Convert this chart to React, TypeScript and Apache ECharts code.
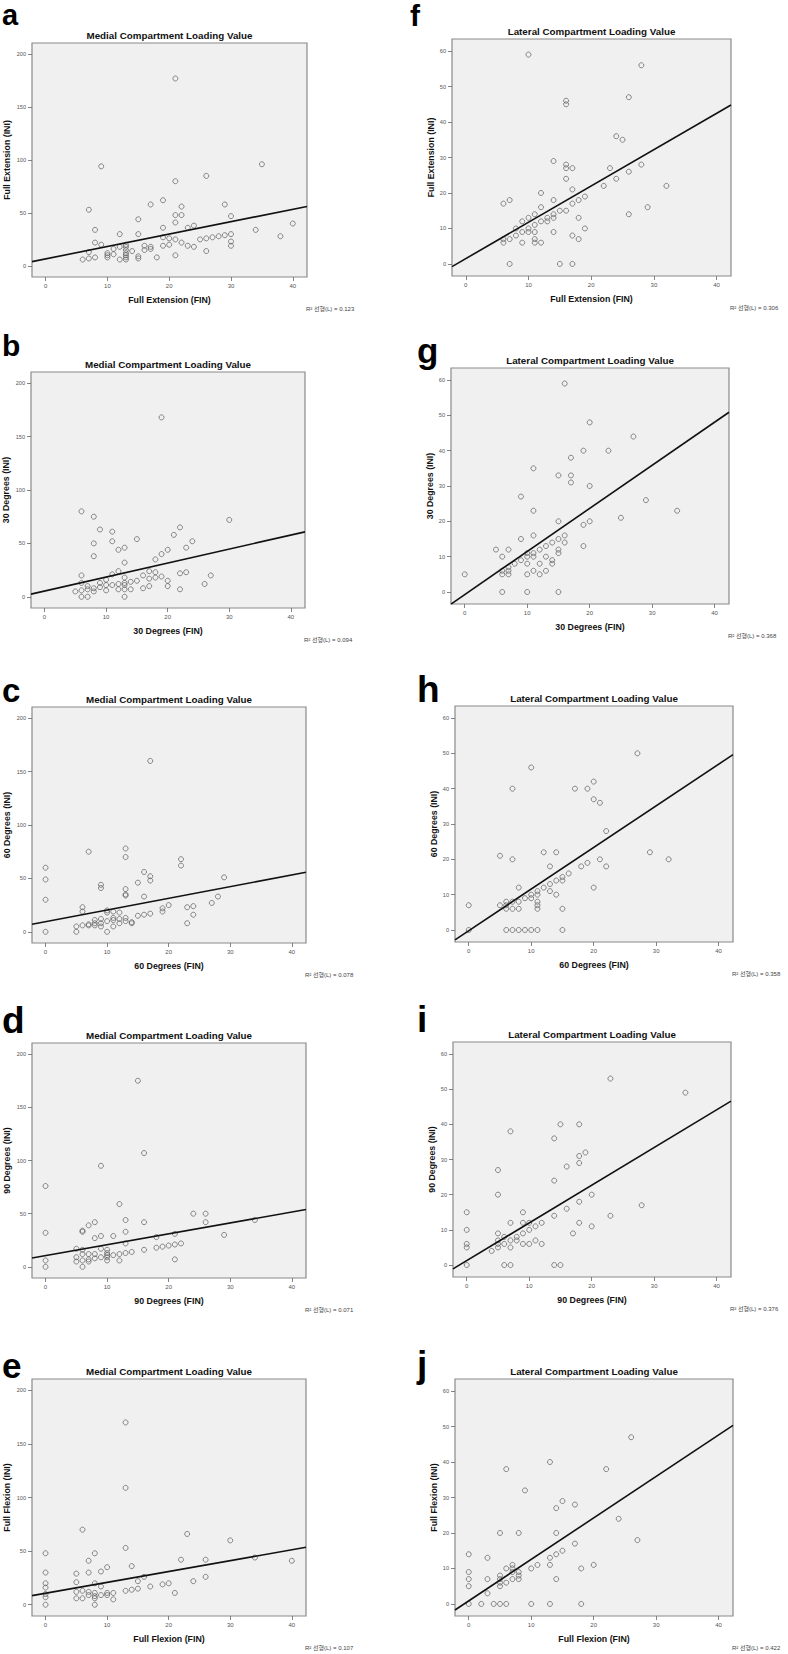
import React, { useEffect, useRef } from "react";
import * as echarts from "echarts";

// ---------- data ----------
const letters = ["a", "b", "c", "d", "e", "f", "g", "h", "i", "j"];
const medialTitle = "Medial Compartment Loading Value";
const lateralTitle = "Lateral Compartment Loading Value";
const conditions = ["Full Extension", "30 Degrees", "60 Degrees", "90 Degrees", "Full Flexion"];
const r2Values = ["0.123", "0.094", "0.078", "0.071", "0.107", "0.306", "0.368", "0.358", "0.376", "0.422"];
const lineIntercepts = [6.6, 5.4, 9.4, 10.5, 10.7, 1.5, -0.73, -0.2, 1.26, 0.87];
const lineSlopes = [1.171, 1.31, 1.097, 1.027, 1.013, 1.024, 1.22, 1.178, 1.072, 1.169];
const xTicks = [0, 10, 20, 30, 40];
const medialYTicks = [0, 50, 100, 150, 200];
const lateralYTicks = [0, 10, 20, 30, 40, 50, 60];

const aPts = [[21,177],[9,94],[35,96],[26,85],[21,80],[7,53],[19,62],[17,58],[22,56],[29,58],[21,48],[22,48],[15,44],[30,47],[21,41],[40,40],[8,34],[34,34],[19,36],[23,36],[24,38],[12,30],[15,30],[38,28],[30,30],[29,29],[28,28],[27,27],[26,26],[25,25],[19,27],[20,26],[21,25],[30,23],[30,19],[8,22],[9,20],[13,20],[12,18],[11,16],[13,18],[13,15],[13,12],[13,10],[13,8],[13,6],[14,14],[16,19],[16,15],[17,18],[17,16],[19,19],[20,20],[22,22],[23,19],[24,18],[26,14],[7,13],[7,7],[6,6],[8,8],[10,10],[10,8],[11,11],[12,6],[15,9],[15,7],[18,8],[21,10],[10,12]];
const bPts = [[19,168],[6,80],[8,75],[30,72],[9,63],[22,65],[11,61],[21,58],[11,52],[15,54],[24,52],[8,50],[12,44],[13,46],[20,44],[23,46],[19,40],[8,38],[18,35],[13,32],[6,20],[12,24],[11,21],[17,24],[18,23],[16,20],[22,22],[23,23],[27,20],[13,18],[17,17],[18,18],[19,19],[20,15],[15,15],[14,14],[10,16],[9,13],[6,13],[26,12],[9,9],[10,11],[11,11],[12,12],[13,13],[13,11],[7,10],[7,7],[8,8],[10,6],[12,7],[13,7],[14,7],[16,8],[17,10],[20,10],[22,7],[5,5],[6,6],[8,5],[6,0],[7,0],[13,0]];
const cPts = [[17,160],[7,75],[13,78],[13,70],[22,68],[22,62],[0,60],[16,56],[17,52],[29,51],[0,49],[17,48],[15,46],[9,44],[9,41],[13,40],[13,35],[13,34],[16,33],[28,33],[0,30],[27,27],[20,25],[6,23],[6,19],[23,23],[24,24],[19,22],[19,19],[10,20],[10,18],[11,19],[12,18],[17,17],[16,16],[15,15],[24,16],[13,13],[11,13],[8,11],[9,12],[10,10],[11,11],[12,12],[13,10],[14,9],[14,8],[7,7],[8,8],[9,8],[12,8],[6,6],[7,6],[8,6],[9,5],[11,5],[23,8],[5,5],[5,0],[10,0],[0,0]];
const dPts = [[15,175],[16,107],[9,95],[0,76],[12,59],[24,50],[26,50],[13,44],[34,44],[8,42],[16,42],[26,42],[7,39],[6,34],[6,33],[0,32],[13,33],[21,31],[29,30],[9,29],[11,29],[8,27],[18,28],[13,22],[22,22],[21,21],[20,20],[19,19],[18,18],[5,17],[9,17],[10,16],[16,16],[6,16],[14,14],[13,13],[12,12],[11,11],[6,12],[7,12],[8,12],[10,13],[10,11],[9,9],[8,8],[7,7],[5,9],[10,9],[10,6],[5,5],[6,6],[7,5],[12,6],[21,7],[0,6],[0,0],[6,0]];
const ePts = [[13,170],[13,109],[6,70],[23,66],[30,60],[13,53],[0,48],[8,48],[34,44],[22,42],[26,42],[40,41],[7,41],[14,36],[10,35],[9,31],[0,30],[7,30],[5,29],[16,26],[26,26],[0,20],[5,21],[8,20],[15,22],[24,22],[0,16],[9,17],[17,17],[19,19],[20,20],[14,14],[13,13],[15,15],[5,12],[6,13],[7,12],[8,11],[21,11],[10,11],[11,11],[0,10],[0,7],[7,9],[8,8],[9,9],[10,9],[5,6],[6,6],[8,6],[11,5],[0,0],[8,0]];
const fPts = [[10,59],[28,56],[26,47],[16,46],[16,45],[24,36],[25,35],[14,29],[16,28],[16,27],[17,27],[23,27],[28,28],[26,26],[16,24],[24,24],[22,22],[32,22],[17,21],[12,20],[19,19],[6,17],[7,18],[14,18],[18,18],[17,17],[12,16],[29,16],[15,15],[16,15],[11,14],[14,14],[26,14],[10,13],[13,13],[14,13],[18,13],[9,12],[12,12],[13,12],[11,11],[8,10],[10,10],[19,10],[9,9],[10,9],[11,9],[14,9],[8,8],[17,8],[6,7],[7,7],[11,7],[18,7],[6,6],[9,6],[11,6],[12,6],[7,0],[15,0],[17,0]];
const gPts = [[16,59],[20,48],[27,44],[19,40],[23,40],[17,38],[11,35],[15,33],[17,33],[17,31],[20,30],[9,27],[29,26],[11,23],[34,23],[25,21],[15,20],[20,20],[19,19],[11,16],[16,16],[9,15],[15,15],[14,14],[16,14],[19,13],[13,13],[5,12],[7,12],[12,12],[15,12],[10,11],[11,11],[15,11],[6,10],[10,10],[11,10],[13,10],[9,9],[14,9],[8,8],[10,8],[12,8],[14,8],[7,7],[7,6],[11,6],[13,6],[6,6],[0,5],[6,5],[7,5],[10,5],[12,5],[6,0],[10,0],[15,0]];
const hPts = [[27,50],[10,46],[20,42],[7,40],[17,40],[19,40],[20,37],[21,36],[22,28],[12,22],[14,22],[29,22],[5,21],[7,20],[21,20],[32,20],[13,18],[18,18],[22,18],[19,19],[16,16],[15,15],[15,14],[14,14],[13,13],[12,12],[20,12],[8,12],[11,11],[13,11],[10,10],[11,10],[14,10],[9,9],[10,9],[8,8],[7,8],[11,8],[6,8],[0,7],[5,7],[6,7],[11,7],[6,6],[7,6],[8,6],[11,6],[15,6],[0,0],[6,0],[7,0],[8,0],[9,0],[10,0],[11,0],[15,0]];
const iPts = [[23,53],[35,49],[15,40],[18,40],[7,38],[14,36],[19,32],[18,31],[18,29],[16,28],[5,27],[14,24],[5,20],[20,20],[18,18],[28,17],[16,16],[0,15],[9,15],[14,14],[23,14],[7,12],[9,12],[10,12],[12,12],[18,12],[11,11],[20,11],[0,10],[10,10],[5,9],[9,9],[17,9],[6,8],[8,8],[5,7],[7,7],[8,7],[11,7],[0,6],[6,6],[9,6],[10,6],[12,6],[5,6],[0,5],[5,5],[7,5],[4,4],[0,0],[6,0],[7,0],[14,0],[15,0]];
const jPts = [[26,47],[13,40],[6,38],[22,38],[9,32],[15,29],[17,28],[14,27],[24,24],[5,20],[8,20],[14,20],[27,18],[17,17],[15,15],[0,14],[14,14],[3,13],[13,13],[7,11],[11,11],[13,11],[20,11],[6,10],[7,10],[10,10],[18,10],[0,9],[8,9],[7,9],[5,8],[8,8],[0,7],[3,7],[7,7],[8,7],[14,7],[5,7],[6,6],[5,6],[0,5],[5,5],[3,3],[0,0],[2,0],[4,0],[5,0],[6,0],[10,0],[13,0],[18,0]];

const allPts = [aPts, bPts, cPts, dPts, ePts, fPts, gPts, hPts, iPts, jPts];

// ---------- layout ----------
const FONT = "'Liberation Sans', Arial, 'Noto Sans CJK KR', sans-serif";
const X_MIN = -2.2;
const X_MAX = 42.3;
const boxes = [
  { left: 32, top: 43, width: 275, height: 234 },
  { left: 31, top: 372, width: 274, height: 236 },
  { left: 32, top: 707, width: 274, height: 236 },
  { left: 32, top: 1043, width: 274, height: 235 },
  { left: 32, top: 1379, width: 274, height: 237 },
  { left: 452, top: 39, width: 279, height: 237 },
  { left: 451, top: 368, width: 278, height: 236 },
  { left: 455, top: 706, width: 278, height: 236 },
  { left: 453, top: 1042, width: 278, height: 235 },
  { left: 455, top: 1379, width: 278, height: 237 },
];
const letterPos = [
  { x: 2, y: 15, size: 29 },
  { x: 2, y: 345, size: 30 },
  { x: 2, y: 690, size: 33 },
  { x: 2, y: 1020, size: 37 },
  { x: 2, y: 1365, size: 35 },
  { x: 410, y: 15.5, size: 30 },
  { x: 417, y: 350, size: 35 },
  { x: 417, y: 689, size: 37 },
  { x: 417, y: 1019, size: 37 },
  { x: 417, y: 1364, size: 37 },
];

function buildOption() {
  const grid: any[] = [];
  const xAxis: any[] = [];
  const yAxis: any[] = [];
  const series: any[] = [];
  const graphic: any[] = [];

  boxes.forEach((b, i) => {
    const lateral = i >= 5;
    const cond = conditions[i % 5];
    const yTicks = lateral ? lateralYTicks : medialYTicks;
    grid.push({
      left: b.left,
      top: b.top,
      width: b.width,
      height: b.height,
      show: true,
      backgroundColor: "#f0f0f0",
      borderColor: "#8a8a8a",
      borderWidth: 1.2,
      containLabel: false,
      outerBoundsMode: "none",
    });
    xAxis.push({
      type: "value",
      gridIndex: i,
      min: X_MIN,
      max: X_MAX,
      name: cond + " (FIN)",
      nameLocation: "middle",
      nameGap: 18.5,
      nameTextStyle: { fontFamily: FONT, fontWeight: "bold", fontSize: 8.8, color: "#111" },
      axisLine: { show: false, onZero: false },
      axisTick: { show: true, length: 4, customValues: xTicks, lineStyle: { color: "#666", width: 0.8 } },
      axisLabel: { customValues: xTicks, fontSize: 6, color: "#555", margin: 6, fontFamily: FONT },
      splitLine: { show: false },
    });
    yAxis.push({
      type: "value",
      gridIndex: i,
      min: lateral ? -3.4 : -10.5,
      max: lateral ? 63.4 : 210.5,
      name: cond + " (INI)",
      nameLocation: "middle",
      nameGap: lateral ? 16.5 : 21,
      nameTextStyle: { fontFamily: FONT, fontWeight: "bold", fontSize: 8.8, color: "#111" },
      axisLine: { show: false, onZero: false },
      axisTick: { show: true, length: 4, customValues: yTicks, lineStyle: { color: "#666", width: 0.8 } },
      axisLabel: { customValues: yTicks, fontSize: 5.6, color: "#555", margin: 6, fontFamily: FONT },
      splitLine: { show: false },
    });
    series.push({
      type: "scatter",
      xAxisIndex: i,
      yAxisIndex: i,
      data: allPts[i],
      symbol: "circle",
      symbolSize: 5,
      silent: true,
      itemStyle: { color: "rgba(0,0,0,0)", borderColor: "#4a4a4a", borderWidth: 0.8 },
    });
    const b0 = lineIntercepts[i];
    const m = lineSlopes[i];
    series.push({
      type: "line",
      xAxisIndex: i,
      yAxisIndex: i,
      data: [
        [X_MIN, b0 + m * X_MIN],
        [X_MAX, b0 + m * X_MAX],
      ],
      symbol: "none",
      silent: true,
      clip: true,
      lineStyle: { color: "#111", width: 1.6 },
    });
    graphic.push({
      type: "text",
      x: b.left + b.width / 2,
      y: b.top - 8,
      silent: true,
      style: {
        text: lateral ? lateralTitle : medialTitle,
        fill: "#111",
        fontFamily: FONT,
        fontWeight: "bold",
        fontSize: 9.8,
        align: "center",
        verticalAlign: "middle",
      },
    });
    graphic.push({
      type: "text",
      x: b.left + b.width - 1,
      y: b.top + b.height + 31.5,
      silent: true,
      style: {
        text: "R² 선형(L) = " + r2Values[i],
        fill: "#444",
        fontFamily: FONT,
        fontSize: 6,
        align: "left",
        verticalAlign: "middle",
      },
    });
    const lp = letterPos[i];
    graphic.push({
      type: "text",
      x: lp.x,
      y: lp.y,
      silent: true,
      style: {
        text: letters[i],
        fill: "#000",
        fontFamily: FONT,
        fontWeight: "bold",
        fontSize: lp.size,
        align: "left",
        verticalAlign: "middle",
      },
    });
  });

  return {
    animation: false,
    backgroundColor: "#ffffff",
    grid,
    xAxis,
    yAxis,
    series,
    graphic,
  };
}

export default function App() {
  const ref = useRef<HTMLDivElement>(null);
  useEffect(() => {
    if (!ref.current) return;
    const chart = echarts.init(ref.current, undefined, { renderer: "svg", width: 788, height: 1654 });
    chart.setOption(buildOption() as any);
    return () => chart.dispose();
  }, []);
  return (
    <div
      ref={ref}
      style={{ position: "absolute", left: 0, top: 0, width: 788, height: 1654, background: "#fff" }}
    />
  );
}
